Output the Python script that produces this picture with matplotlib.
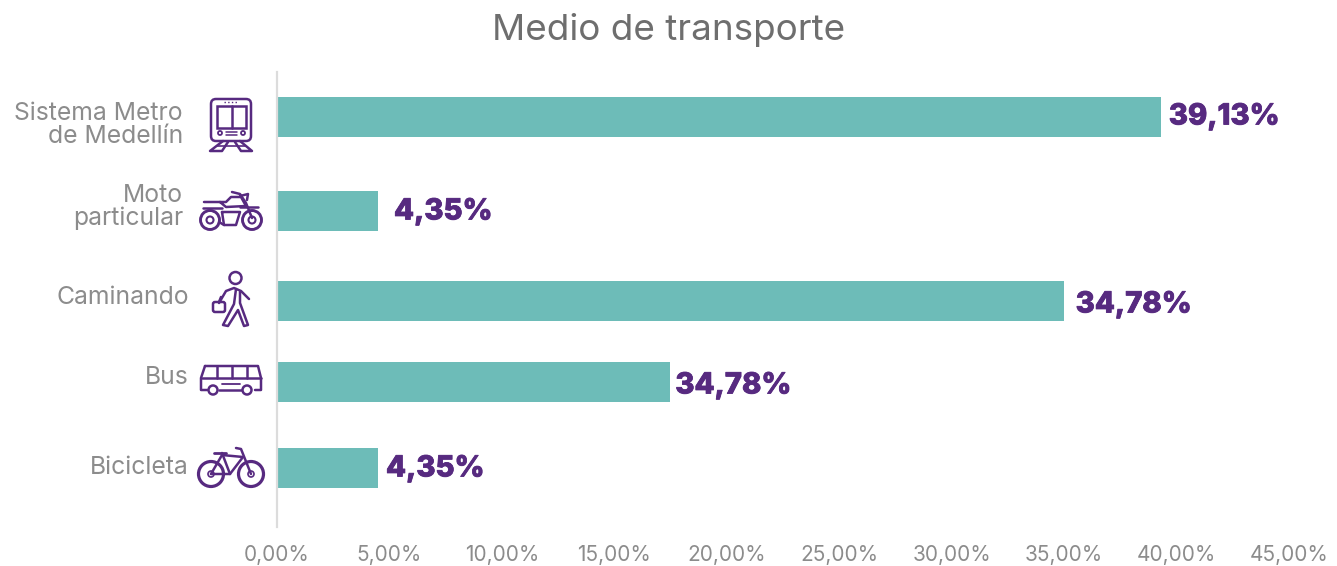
import matplotlib
matplotlib.use("Agg")
import matplotlib.pyplot as plt
import matplotlib.patheffects as pe
from matplotlib.patches import Circle, Rectangle, FancyBboxPatch

W, H = 1337, 566
plt.rcParams['font.family'] = ['Inter', 'DejaVu Sans']

categories = ["Sistema Metro\nde Medellín", "Moto\nparticular", "Caminando", "Bus", "Bicicleta"]
bar_values = [39.3, 4.49, 34.98, 17.49, 4.49]
value_labels = ["39,13%", "4,35%", "34,78%", "34,78%", "4,35%"]
tick_values = [0, 5, 10, 15, 20, 25, 30, 35, 40, 45]
tick_labels = ["0,00%", "5,00%", "10,00%", "15,00%", "20,00%", "25,00%", "30,00%", "35,00%", "40,00%", "45,00%"]
title = "Medio de transporte"

# layout (pixels)
row_y = [117, 211, 301, 382, 468]
label_gap = [8, 16, 12, 5, 8]
label_dy = [0, 1, 4, 4, 1]
cat_right = [183, 183, 189, 189, 189]
cat_dy = [8, -4, -4, -4, 0]

TEAL = "#6dbcb8"
PURPLE = "#572a80"
GREY = "#8c8c8c"

fig = plt.figure(figsize=(W / 100, H / 100), dpi=100, facecolor="white")
X0, X1, Y0, Y1 = 277, 1289, 72, 527
ax = fig.add_axes([X0 / W, 1 - Y1 / H, (X1 - X0) / W, (Y1 - Y0) / H])
ax.set_xlim(0, 45)
ax.set_ylim(Y1, Y0)
ax.barh(row_y, bar_values, height=40, color=TEAL, zorder=2)

for s in ("top", "right", "bottom"):
    ax.spines[s].set_visible(False)
ax.spines["left"].set_color("#dcdcdc")
ax.spines["left"].set_linewidth(1.6)
ax.set_yticks([])
ax.set_xticks(tick_values)
ax.set_xticklabels(tick_labels, fontsize=15, color=GREY)
ax.tick_params(axis="x", length=0, pad=13)

for y, v, t, g, d in zip(row_y, bar_values, value_labels, label_gap, label_dy):
    ax.annotate(t, xy=(v, y + d), xytext=(g * 0.72, 0), textcoords="offset points",
                ha="left", va="center", fontsize=21, fontweight=800, color=PURPLE,
                path_effects=[pe.withStroke(linewidth=0.6, foreground=PURPLE)])

fig.text(669 / W, 1 - 30 / H, title, ha="center", va="center", fontsize=26.5, color="#6e6e6e")

# overlay in pixel coordinates for category text and pictograms
ov = fig.add_axes([0, 0, 1, 1], facecolor="none")
ov.set_xlim(0, W)
ov.set_ylim(H, 0)
ov.axis("off")

for c, y, r, d in zip(categories, row_y, cat_right, cat_dy):
    ov.text(r, y + d, c, ha="right", va="center", fontsize=17.8, color=GREY, linespacing=1.02)

LW = 1.8
kw = dict(color=PURPLE, lw=LW, solid_capstyle="round", solid_joinstyle="round")


def line(*pts, **extra):
    k = dict(kw)
    k.update(extra)
    ov.plot([p[0] for p in pts], [p[1] for p in pts], **k)


def circ(x, y, r, lw=LW, fill=False):
    ov.add_patch(Circle((x, y), r, fill=fill, ec=PURPLE, fc=PURPLE if fill else "none", lw=lw))


def rrect(x0, y0, x1, y1, rad=3, lw=LW):
    ov.add_patch(FancyBboxPatch((x0 + rad, y0 + rad), x1 - x0 - 2 * rad, y1 - y0 - 2 * rad,
                                boxstyle=f"round,pad={rad}", fill=False, ec=PURPLE, lw=lw))


# train
rrect(211, 99, 251, 141, rad=5)
ov.add_patch(Rectangle((217, 106), 29, 22, fill=False, ec=PURPLE, lw=LW))
line((231.5, 106), (231.5, 128))
circ(220, 133, 2, lw=1.3)
circ(243, 133, 2, lw=1.3)
line((226, 132), (237, 132), lw=1.1)
line((226, 135), (237, 135), lw=1.1)
line((223, 141), (210, 151), (222, 151), (228, 142))
line((240, 141), (252, 151), (241, 151), (235, 142))
line((217, 146), (245, 146), lw=1.2)
line((224, 102), (238, 102), lw=1, linestyle=":")

# motorcycle
circ(210, 220, 9.5, lw=2.1)
circ(210, 220, 3.5, lw=1.5)
circ(252, 220, 9.5, lw=2.1)
circ(252, 220, 3.5, lw=1.5)
line((204, 202), (226, 202), (231, 197), (241, 197), (246, 206), (226, 207), (220, 202))
line((203, 208), (222, 208))
line((240, 207), (258, 207))
line((232, 192), (240, 194), (246, 203), (252, 218))
line((240, 196), (248, 194), (247, 200))
line((222, 212), (224, 225), (236, 225), (240, 212), (222, 212))
line((219, 222), (224, 225))

# walker
circ(235.5, 278, 6)
line((219, 303), (226, 291), (234, 288), (241, 291), (249, 299))
line((236, 289), (234, 304), (223, 325), (228, 326), (238, 310), (244, 326), (248, 325), (240, 303), (240, 292))
rrect(213, 302, 225, 312, rad=2)
line((219, 302), (221, 297))

# bus
line((205, 366), (258, 366), (261, 378), (261, 390), (255, 390))
line((205, 366), (201, 378), (201, 390), (207, 390))
line((219, 390), (241, 390))
line((202, 378), (261, 378))
line((217, 366), (217, 378))
line((232, 366), (232, 378))
line((247, 366), (247, 378))
line((222, 384), (240, 384), lw=1.3)
circ(213, 390, 4.5)
circ(247, 390, 4.5)

# bicycle
circ(211, 474, 12.5, lw=2.3)
circ(251, 474, 12.5, lw=2.3)
circ(211, 474, 3, lw=1.2)
circ(251, 474, 3, lw=1.2)
line((211, 474), (222, 455), (243, 457), (230, 474), (211, 474))
line((222, 453), (230, 474))
line((214, 453), (226, 453), lw=2)
line((236, 448), (241, 449), (251, 474))

fig.savefig("out.png", dpi=100)
